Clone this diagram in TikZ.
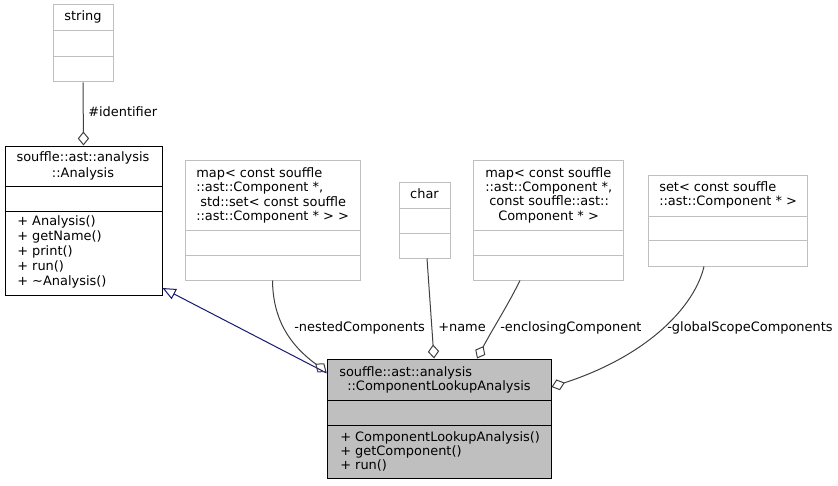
\documentclass[tikz,border=0pt]{standalone}
\usepackage{fontspec}
\setmainfont{DejaVu Sans}
\usetikzlibrary{arrows.meta,fit}
\definecolor{grey75}{HTML}{BFBFBF}
\definecolor{grey25}{HTML}{404040}
\definecolor{mblue}{HTML}{191970}
\begin{document}
\begin{tikzpicture}[x=0.75pt,y=-0.75pt,
  graybox/.style={draw=grey75, line width=0.75pt, inner sep=0pt},
  blackbox/.style={draw=black, line width=0.75pt, inner sep=0pt},
  focusbox/.style={draw=black, fill=grey75, line width=0.75pt, inner sep=0pt},
  gsep/.style={draw=grey75, line width=0.75pt},
  bsep/.style={draw=black, line width=0.75pt},
  txt/.style={inner sep=0pt, font=\fontsize{9.7pt}{11pt}\selectfont, anchor=base west},
  ctxt/.style={txt, anchor=base},
  assoc/.style={draw=grey25, line width=0.75pt, -{Diamond[open, length=10.5pt, width=8.5pt]}},
  inherit/.style={draw=mblue, line width=0.75pt, -{Triangle[open, length=10pt, width=8.5pt]}}]
\useasboundingbox (0,0) rectangle (838,485);

% string
\node[graybox, fit={(53,5) (113,82)}] (string) {};
\draw[gsep] (string.west |- 0,31) -- (string.east |- 0,31);
\draw[gsep] (string.west |- 0,57) -- (string.east |- 0,57);
\node[ctxt] (tstr) at (83,21) {string};

% Analysis
\node[blackbox, fit={(5,146) (162,295)}] (analysis) {};
\draw[bsep] (analysis.west |- 0,186) -- (analysis.east |- 0,186);
\draw[bsep] (analysis.west |- 0,211) -- (analysis.east |- 0,211);
\node[ctxt] (ta1) at (83,161) {souffle::ast::analysis};
\node[ctxt] (ta2) at (83,177) {::Analysis};
\node[txt] (ma1) at (17,225) {+ Analysis()};
\node[txt] (ma2) at (17,240) {+ getName()};
\node[txt] (ma3) at (17,255) {+ print()};
\node[txt] (ma4) at (17,270) {+ run()};
\node[txt] (ma5) at (17,285) {+ \textasciitilde Analysis()};

% map1
\node[graybox, fit={(185,160) (360,280)}] (map1) {};
\draw[gsep] (map1.west |- 0,230) -- (map1.east |- 0,230);
\draw[gsep] (map1.west |- 0,255) -- (map1.east |- 0,255);
\node[txt] (tm11) at (196,177) {map< const souffle};
\node[txt] (tm12) at (196,191) {::ast::Component *,};
\node[txt] (tm13) at (200,206) {std::set< const souffle};
\node[txt] (tm14) at (196,220) {::ast::Component * > >};

% char
\node[graybox, fit={(399,182) (450,258)}] (char) {};
\draw[gsep] (char.west |- 0,208) -- (char.east |- 0,208);
\draw[gsep] (char.west |- 0,233) -- (char.east |- 0,233);
\node[ctxt] (tch) at (424.5,198) {char};

% map2
\node[graybox, fit={(473,160) (623,280)}] (map2) {};
\draw[gsep] (map2.west |- 0,230) -- (map2.east |- 0,230);
\draw[gsep] (map2.west |- 0,255) -- (map2.east |- 0,255);
\node[txt] (tm21) at (485,177) {map< const souffle};
\node[txt] (tm22) at (485,191) {::ast::Component *,};
\node[txt] (tm23) at (489,205) {const souffle::ast::};
\node[txt] (tm24) at (498,220) {Component * >};

% set
\node[graybox, fit={(648,175) (807,266)}] (set) {};
\draw[gsep] (set.west |- 0,216) -- (set.east |- 0,216);
\draw[gsep] (set.west |- 0,240) -- (set.east |- 0,240);
\node[txt] (ts1) at (659,191) {set< const souffle};
\node[txt] (ts2) at (659,205) {::ast::Component * >};

% ComponentLookupAnalysis
\node[focusbox, fit={(327,359) (551,478)}] (cla) {};
\draw[bsep] (cla.west |- 0,400) -- (cla.east |- 0,400);
\draw[bsep] (cla.west |- 0,425) -- (cla.east |- 0,425);
\node[txt] (tc1) at (339,376) {souffle::ast::analysis};
\node[txt] (tc2) at (347,390) {::ComponentLookupAnalysis};
\node[txt] (mc1) at (340,441) {+ ComponentLookupAnalysis()};
\node[txt] (mc2) at (340,455) {+ getComponent()};
\node[txt] (mc3) at (340,469) {+ run()};

% connectors
\draw[assoc] (string.south) -- (analysis.north);
\node[txt] (lid) at (88,116) {\#identifier};

\draw[inherit] (cla.west |- 0,373) -- (analysis.east |- 0,288);

\draw[assoc] (map1.south) .. controls (273,320) and (290,345) .. (cla.west |- 0,372);
\node[txt] (lnc) at (294,331) {-nestedComponents};

\draw[assoc] (427,0 |- char.south) -- (434,0 |- cla.north);
\node[txt] (lnm) at (438,331) {+name};

\draw[assoc] (520,0 |- map2.south) .. controls (508,305) and (492,330) .. (477,0 |- cla.north);
\node[txt] (lec) at (500,331) {-enclosingComponent};

\draw[assoc] (704,0 |- set.south) .. controls (695,305) and (650,355) .. (cla.east |- 0,387);
\node[txt] (lgs) at (667,331) {-globalScopeComponents};
\end{tikzpicture}
\end{document}
